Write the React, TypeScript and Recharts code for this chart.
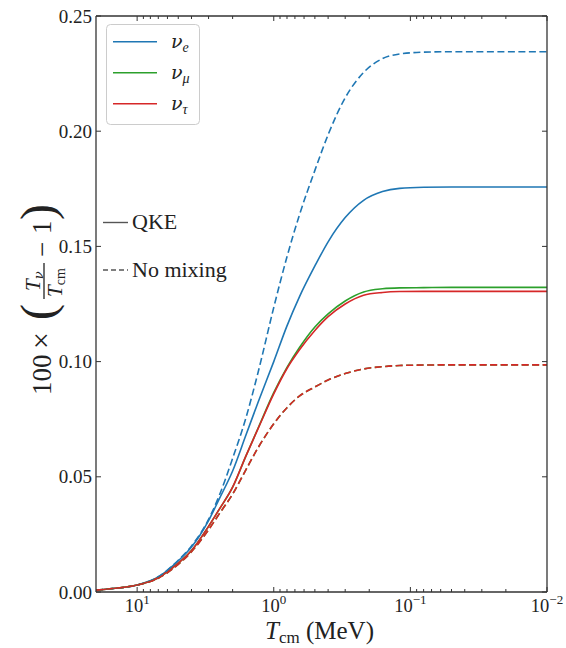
import React from 'react';
import { LineChart, Line, XAxis, YAxis } from 'recharts';

// Temperature grid T_cm (MeV)
const temperatures = [20, 15, 10, 7, 5, 4, 3, 2.5, 2, 1.6, 1.3, 1.0, 0.8, 0.65, 0.5, 0.4, 0.3, 0.22, 0.16, 0.12, 0.08, 0.05, 0.02, 0.01];

// QKE (solid)
const nuE_QKE = [0.0008, 0.0015, 0.003, 0.0065, 0.0135, 0.0195, 0.031, 0.0405, 0.0525, 0.068, 0.0825, 0.1, 0.1155, 0.128, 0.1415, 0.152, 0.1625, 0.17, 0.1738, 0.1752, 0.1757, 0.1758, 0.1758, 0.1758];
const nuMu_QKE = [0.0008, 0.0015, 0.003, 0.0062, 0.0125, 0.018, 0.0285, 0.036, 0.0455, 0.059, 0.0712, 0.0865, 0.0975, 0.106, 0.115, 0.1207, 0.1263, 0.1302, 0.1316, 0.132, 0.1321, 0.1322, 0.1322, 0.1322];
const nuTau_QKE = [0.0008, 0.0015, 0.003, 0.0062, 0.0125, 0.018, 0.0285, 0.036, 0.0455, 0.059, 0.071, 0.086, 0.097, 0.105, 0.1135, 0.1195, 0.125, 0.1288, 0.13, 0.1304, 0.1305, 0.1305, 0.1305, 0.1305];

// No mixing (dashed)
const nuE_NoMix = [0.0008, 0.0015, 0.003, 0.0066, 0.0138, 0.02, 0.0315, 0.042, 0.058, 0.0755, 0.0955, 0.1235, 0.1455, 0.1635, 0.183, 0.1985, 0.2145, 0.2255, 0.2315, 0.2335, 0.2343, 0.2345, 0.2345, 0.2345];
const nuMu_NoMix = [0.0008, 0.0015, 0.003, 0.006, 0.012, 0.0175, 0.027, 0.034, 0.0425, 0.053, 0.0627, 0.073, 0.080, 0.085, 0.089, 0.092, 0.0948, 0.0968, 0.0978, 0.0983, 0.0985, 0.0986, 0.0986, 0.0986];
const nuTau_NoMix = [0.0008, 0.0015, 0.003, 0.006, 0.012, 0.0175, 0.027, 0.034, 0.0425, 0.053, 0.0627, 0.073, 0.080, 0.085, 0.089, 0.092, 0.0948, 0.0968, 0.0978, 0.0983, 0.0985, 0.0986, 0.0986, 0.0986];

// Axis ticks
const xMajorTicks = [10, 1, 0.1, 0.01];
const xMajorExponents = ['1', '0', '\u22121', '\u22122'];
const xMinorTicks = [9, 8, 7, 6, 5, 4, 3, 2, 0.9, 0.8, 0.7, 0.6, 0.5, 0.4, 0.3, 0.2, 0.09, 0.08, 0.07, 0.06, 0.05, 0.04, 0.03, 0.02];
const xTicks = [...xMajorTicks, ...xMinorTicks];
const yTicks = [0, 0.05, 0.1, 0.15, 0.2, 0.25];
const yTickLabels = ['0.00', '0.05', '0.10', '0.15', '0.20', '0.25'];

const seriesLabels = ['e', '\u03bc', '\u03c4'];
const styleLabels = ['QKE', 'No mixing'];

const BLUE = '#1f77b4';
const GREEN = '#2ca02c';
const RED = '#d62728';
const AX = '#333333';
const TXT = '#222222';
const FONT = "'Liberation Serif', 'DejaVu Serif', serif";
const GREEK = "'DejaVu Serif', 'Liberation Serif', serif";
const DASH = '7 3.5';

const data = temperatures.map((T, i) => ({
  T,
  eQ: nuE_QKE[i],
  muQ: nuMu_QKE[i],
  tauQ: nuTau_QKE[i],
  eN: nuE_NoMix[i],
  muN: nuMu_NoMix[i],
  tauN: nuTau_NoMix[i],
}));

const MAJ = 5;
const MIN = 3;

const bottomTick = (props: any) => {
  const { x, y, payload } = props;
  const idx = xMajorTicks.indexOf(payload.value);
  const major = idx >= 0;
  return (
    <g>
      <line x1={x} y1={y} x2={x} y2={y - (major ? MAJ : MIN)} stroke={AX} strokeWidth={1} />
      {major && (
        <text x={x} y={y + 20} textAnchor="middle" fontFamily={FONT} fontSize={18.5} fill={TXT}>
          10<tspan dy={-8} fontSize={13}>{xMajorExponents[idx]}</tspan>
        </text>
      )}
    </g>
  );
};

const topTick = (props: any) => {
  const { x, y, payload } = props;
  const major = xMajorTicks.indexOf(payload.value) >= 0;
  return <line x1={x} y1={y} x2={x} y2={y + (major ? MAJ : MIN)} stroke={AX} strokeWidth={1} />;
};

const leftTick = (props: any) => {
  const { x, y, payload } = props;
  const idx = yTicks.indexOf(payload.value);
  return (
    <g>
      <line x1={x} y1={y} x2={x + MAJ} y2={y} stroke={AX} strokeWidth={1} />
      <text x={x - 4} y={y + 6.5} textAnchor="end" fontFamily={FONT} fontSize={19} fill={TXT}>
        {yTickLabels[idx]}
      </text>
    </g>
  );
};

const rightTick = (props: any) => {
  const { x, y } = props;
  return <line x1={x} y1={y} x2={x - MAJ} y2={y} stroke={AX} strokeWidth={1} />;
};

const axisLineStyle = { stroke: AX, strokeWidth: 1.3 };

export default function App() {
  const legendColors = [BLUE, GREEN, RED];
  return (
    <div style={{ position: 'absolute', left: 0, top: 0, width: 566, height: 648, background: '#fff' }}>
      <LineChart width={566} height={648} data={data} margin={{ top: 15, right: 18, bottom: 16, left: 36 }}>
        <XAxis
          dataKey="T"
          type="number"
          scale="log"
          domain={[0.01, 20]}
          reversed
          allowDataOverflow
          ticks={xTicks}
          interval={0}
          tickSize={0}
          tickMargin={0}
          tickLine={false}
          tick={bottomTick}
          height={40}
          axisLine={axisLineStyle}
        />
        <XAxis
          xAxisId="top"
          orientation="top"
          dataKey="T"
          type="number"
          scale="log"
          domain={[0.01, 20]}
          reversed
          allowDataOverflow
          ticks={xTicks}
          interval={0}
          tickSize={0}
          tickMargin={0}
          tickLine={false}
          tick={topTick}
          height={1}
          axisLine={axisLineStyle}
        />
        <YAxis
          type="number"
          domain={[0, 0.25]}
          allowDataOverflow
          ticks={yTicks}
          interval={0}
          tickSize={0}
          tickMargin={0}
          tickLine={false}
          tick={leftTick}
          width={60}
          axisLine={axisLineStyle}
        />
        <YAxis
          yAxisId="right"
          orientation="right"
          type="number"
          domain={[0, 0.25]}
          allowDataOverflow
          ticks={yTicks}
          interval={0}
          tickSize={0}
          tickMargin={0}
          tickLine={false}
          tick={rightTick}
          width={1}
          axisLine={axisLineStyle}
        />
        <Line type="monotone" dataKey="eQ" stroke={BLUE} strokeWidth={1.6} dot={false} isAnimationActive={false} />
        <Line type="monotone" dataKey="muQ" stroke={GREEN} strokeWidth={1.6} dot={false} isAnimationActive={false} />
        <Line type="monotone" dataKey="tauQ" stroke={RED} strokeWidth={1.6} dot={false} isAnimationActive={false} />
        <Line type="monotone" dataKey="eN" stroke={BLUE} strokeWidth={1.6} strokeDasharray={DASH} dot={false} isAnimationActive={false} />
        <Line type="monotone" dataKey="muN" stroke={GREEN} strokeWidth={1.6} strokeDasharray={DASH} dot={false} isAnimationActive={false} />
        <Line type="monotone" dataKey="tauN" stroke={RED} strokeWidth={1.6} strokeDasharray={DASH} dot={false} isAnimationActive={false} />
      </LineChart>

      <svg width={566} height={648} style={{ position: 'absolute', left: 0, top: 0, pointerEvents: 'none' }}>
        {/* Flavour legend */}
        <rect x={106.5} y={24.5} width={93} height={100} rx={4} ry={4} fill="#fff" fillOpacity={0.8} stroke="#cccccc" strokeWidth={1} />
        {seriesLabels.map((s, i) => (
          <g key={s}>
            <line x1={113} x2={157} y1={41.7 + i * 31} y2={41.7 + i * 31} stroke={legendColors[i]} strokeWidth={1.6} />
            <text x={171} y={48 + i * 31} fontFamily={GREEK} fontSize={19} fontStyle="italic" fill={TXT}>
              {'\u03bd'}
              <tspan fontFamily={FONT} fontSize={14} dy={4}>{s}</tspan>
            </text>
          </g>
        ))}

        {/* Line style legend */}
        <line x1={103} x2={128} y1={222.5} y2={222.5} stroke="#555" strokeWidth={1.4} />
        <text x={132} y={229} fontFamily={FONT} fontSize={22} fill={TXT}>{styleLabels[0]}</text>
        <line x1={103} x2={128} y1={270} y2={270} stroke="#555" strokeWidth={1.4} strokeDasharray="5 3" />
        <text x={132} y={277} fontFamily={FONT} fontSize={22} fill={TXT}>{styleLabels[1]}</text>

        {/* X axis label */}
        <text x={265} y={639} fontFamily={FONT} fontSize={25} fill={TXT}>
          <tspan fontStyle="italic">T</tspan>
          <tspan fontSize={17} dy={4}>cm</tspan>
          <tspan dy={-4}>{' (MeV)'}</tspan>
        </text>

        {/* Y axis label */}
        <g transform="translate(51, 304) rotate(-90)" fontFamily={FONT} fill={TXT}>
          <text x={-91} y={0} fontSize={27}>100</text>
          <text x={-45} y={0} fontSize={30}>{'\u00d7'}</text>
          <text x={-16} y={3} fontSize={48}>(</text>
          <text x={13} y={-11} fontSize={21} fontStyle="italic">
            T<tspan fontFamily={GREEK} fontSize={13} dy={3}>{'\u03bd'}</tspan>
          </text>
          <line x1={5} x2={41} y1={-7} y2={-7} stroke={TXT} strokeWidth={1.3} />
          <text x={7} y={11} fontSize={21}>
            <tspan fontStyle="italic">T</tspan>
            <tspan fontSize={14} dy={3}>cm</tspan>
          </text>
          <text x={47} y={0} fontSize={27}>{'\u2212'}</text>
          <text x={70} y={0} fontSize={27}>1</text>
          <text x={84} y={3} fontSize={48}>)</text>
        </g>
      </svg>
    </div>
  );
}
